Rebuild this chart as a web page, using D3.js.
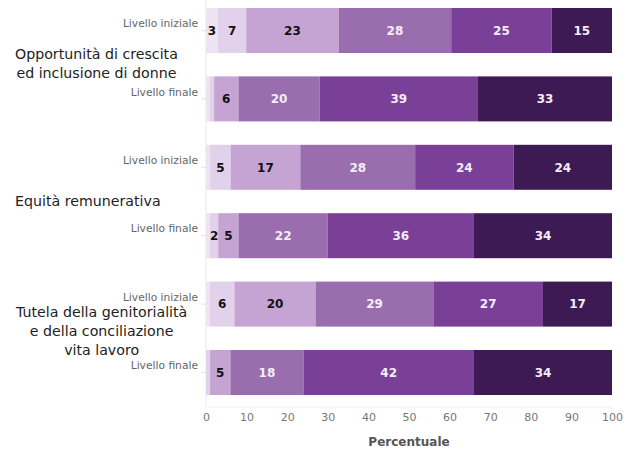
<!DOCTYPE html>
<html>
<head>
<meta charset="utf-8">
<script src="https://cdn.jsdelivr.net/npm/d3@7"></script>
<style>
  html, body { margin: 0; padding: 0; background: #fff; }
  svg { display: block; font-family: "DejaVu Sans", Verdana, sans-serif; }
</style>
</head>
<body>
<svg id="chart" width="637" height="450"></svg>
<script>
// ---- data ----
const groupLabels = [
  ["Opportunità di crescita", "ed inclusione di donne"],
  ["Equità remunerativa"],
  ["Tutela della genitorialità", "e della conciliazione", "vita lavoro"]
];
const stageLabels = ["Livello iniziale", "Livello finale"];
const seriesNames = ["Livello 1", "Livello 2", "Livello 3", "Livello 4", "Livello 5", "Livello 6"];
// one value per bar: Opp-iniziale, Opp-finale, Equità-iniziale, Equità-finale, Tutela-iniziale, Tutela-finale
const level1 = [3, 1, 1, 1, 1, 0];
const level2 = [7, 1, 5, 2, 6, 1];
const level3 = [23, 6, 17, 5, 20, 5];
const level4 = [28, 20, 28, 22, 29, 18];
const level5 = [25, 39, 24, 36, 27, 42];
const level6 = [15, 33, 24, 34, 17, 34];
const xTicks = [0, 10, 20, 30, 40, 50, 60, 70, 80, 90, 100];
const xTitle = "Percentuale";
const colors = ["#ede4f2", "#e2d1ea", "#c5a4d3", "#9a6daf", "#7a4097", "#3e1a54"];

// ---- build table ----
const seriesValues = [level1, level2, level3, level4, level5, level6];
const rows = [];
groupLabels.forEach((g, gi) => {
  stageLabels.forEach((s, si) => {
    const idx = gi * stageLabels.length + si;
    const row = { id: idx, group: gi, stage: s };
    seriesNames.forEach((n, k) => row[n] = seriesValues[k][idx]);
    rows.push(row);
  });
});

const stack = d3.stack().keys(seriesNames).offset(d3.stackOffsetExpand);
const stacked = stack(rows);

const svg = d3.select("#chart");
const x = d3.scaleLinear().domain([0, 100]).range([206, 612]);
const y = d3.scaleBand().domain(rows.map(r => r.id)).range([0, 403])
  .paddingInner(0.342).paddingOuter(0.117);
const color = d3.scaleOrdinal().domain(seriesNames).range(colors);

// axis lines
svg.append("line").attr("x1", x(0)).attr("x2", x(0)).attr("y1", 0).attr("y2", 407)
  .attr("stroke", "#e8e8e8").attr("stroke-width", 1);
svg.append("line").attr("x1", x(0)).attr("x2", x(100)).attr("y1", 407).attr("y2", 407)
  .attr("stroke", "#f0f0f0").attr("stroke-width", 1);

// bars
const layers = svg.append("g").selectAll("g").data(stacked).join("g")
  .attr("fill", d => color(d.key));
layers.selectAll("rect").data(d => d).join("rect")
  .attr("x", d => x(d[0] * 100))
  .attr("width", d => x(d[1] * 100) - x(d[0] * 100))
  .attr("y", d => y(d.data.id))
  .attr("height", y.bandwidth());

// labels
stacked.forEach((layer, k) => {
  svg.append("g").selectAll("text").data(layer.filter(d => d.data[layer.key] >= 2)).join("text")
    .attr("x", d => x((d[0] + d[1]) / 2 * 100))
    .attr("y", d => y(d.data.id) + y.bandwidth() / 2)
    .attr("dy", "0.36em")
    .attr("text-anchor", "middle")
    .attr("font-size", 12)
    .attr("font-weight", "bold")
    .attr("fill", k < 3 ? "#111" : "#f4eef7")
    .text(d => d.data[layer.key]);
});

// y axis (stage labels)
const yAxis = d3.axisLeft(y).tickSize(5).tickPadding(3).tickFormat(id => rows[id].stage);
const gy = svg.append("g").attr("transform", `translate(${x(0)},0)`).call(yAxis);
gy.select(".domain").remove();
gy.selectAll(".tick line").attr("stroke", "#e4e4e4");
gy.selectAll(".tick text").attr("font-size", 10.7).attr("fill", "#666")
  .attr("font-family", "DejaVu Sans, sans-serif").attr("dy", "-0.3em");

// x axis
const xAxis = d3.axisBottom(x).tickValues(xTicks).tickSize(0).tickPadding(6);
const gx = svg.append("g").attr("transform", "translate(0,407)").call(xAxis);
gx.select(".domain").remove();
gx.selectAll(".tick text").attr("font-size", 11).attr("fill", "#777")
  .attr("font-family", "DejaVu Sans, sans-serif");

svg.append("text").attr("x", (x(0) + x(100)) / 2 + 0).attr("y", 446)
  .attr("text-anchor", "middle").attr("font-size", 12).attr("font-weight", "bold")
  .attr("fill", "#555").text(xTitle);

// group labels: block left-aligned, lines centred within block
const lineH = 19;
groupLabels.forEach((lines, gi) => {
  const ids = rows.filter(r => r.group === gi).map(r => r.id);
  const n = lines.length;
  const yc = (y(ids[0]) + y(ids[ids.length - 1]) + y.bandwidth()) / 2 - 1 - Math.max(0, n - 2) * 6;
  const t = svg.append("text").attr("text-anchor", "middle").attr("font-size", 14.2).attr("fill", "#222");
  lines.forEach((ln, i) => {
    t.append("tspan").attr("x", 0).attr("y", yc + (i - (n - 1) / 2) * lineH)
      .attr("dy", "0.36em").text(ln);
  });
  const bb = t.node().getBBox();
  t.attr("transform", `translate(${15 - bb.x},0)`);
});
</script>
</body>
</html>
